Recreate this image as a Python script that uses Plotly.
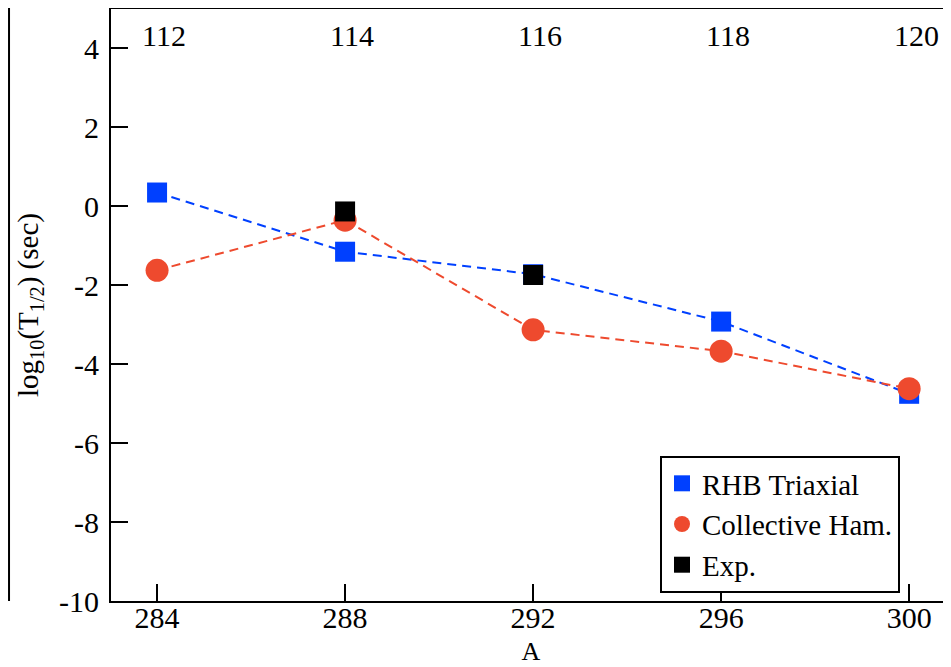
import plotly.graph_objects as go

A = [284, 288, 292, 296, 300]
Z_labels = ["112", "114", "116", "118", "120"]
rhb = [0.35, -1.15, -1.72, -2.92, -4.75]
coll = [-1.62, -0.35, -3.13, -3.67, -4.62]
exp_A = [288, 292]
exp_val = [-0.13, -1.74]
y_ticks = [-10, -8, -6, -4, -2, 0, 2, 4]
y_ticktext = ["-10", "-8", "-6", "-4", "-2", "0", "2", "4"]

BLUE = "#0040ff"
RED = "#ee4a2e"
FONT = "Liberation Serif, Times New Roman, serif"

fig = go.Figure()
fig.add_trace(go.Scatter(x=A, y=rhb, mode="lines", showlegend=False,
                         line=dict(color=BLUE, width=2, dash="9px,6px"), hoverinfo="skip"))
fig.add_trace(go.Scatter(x=A, y=rhb, mode="markers", name="RHB Triaxial",
                         marker=dict(symbol="square", size=20, color=BLUE)))
fig.add_trace(go.Scatter(x=A, y=coll, mode="lines", showlegend=False,
                         line=dict(color=RED, width=2, dash="9px,6px"), hoverinfo="skip"))
fig.add_trace(go.Scatter(x=A, y=coll, mode="markers", name="Collective Ham.",
                         marker=dict(symbol="circle", size=23, color=RED)))
fig.add_trace(go.Scatter(x=exp_A, y=exp_val, mode="markers", name="Exp.",
                         marker=dict(symbol="square", size=20, color="black")))

for a, z in zip(A, Z_labels):
    fig.add_annotation(x=a, y=0.955, xref="x", yref="paper", text=z, showarrow=False,
                       xshift=7, yanchor="middle", font=dict(family=FONT, size=30, color="black"))

# border of neighbouring panel on the left
fig.add_shape(type="line", xref="paper", yref="paper",
              x0=-0.1214, x1=-0.1214, y0=0, y1=1.002,
              line=dict(color="black", width=2))

fig.update_layout(
    width=943, height=659,
    margin=dict(l=103, r=0, t=1, b=66),
    paper_bgcolor="white", plot_bgcolor="white",
    font=dict(family=FONT, size=30, color="black"),
    xaxis=dict(range=[283.02, 300.89], tickvals=A, ticks="inside", ticklen=17, tickwidth=2,
               tickcolor="black", showline=True, linecolor="black", linewidth=2, mirror=True,
               showgrid=False, zeroline=False, automargin=False,
               ticklabelstandoff=-11,
               tickfont=dict(family=FONT, size=30),
               title=dict(text="A", standoff=9, font=dict(family=FONT, size=26))),
    yaxis=dict(range=[-10, 5], tickvals=y_ticks, ticktext=y_ticktext, ticks="inside",
               ticklen=17, tickwidth=2, tickcolor="black", showline=True, linecolor="black",
               linewidth=2, mirror=False, showgrid=False, zeroline=False, automargin=False,
               ticklabelstandoff=4, tickfont=dict(family=FONT, size=30),
               title=dict(text="log<sub>10</sub>(T<sub>1/2</sub>) (sec)", standoff=12,
                          font=dict(family=FONT, size=29))),
    legend=dict(x=0.6536, y=0.245, xanchor="left", yanchor="top",
                bgcolor="white", bordercolor="black", borderwidth=2,
                font=dict(family=FONT, size=29), tracegroupgap=0, itemwidth=30),
)

fig.write_html("out.html")
